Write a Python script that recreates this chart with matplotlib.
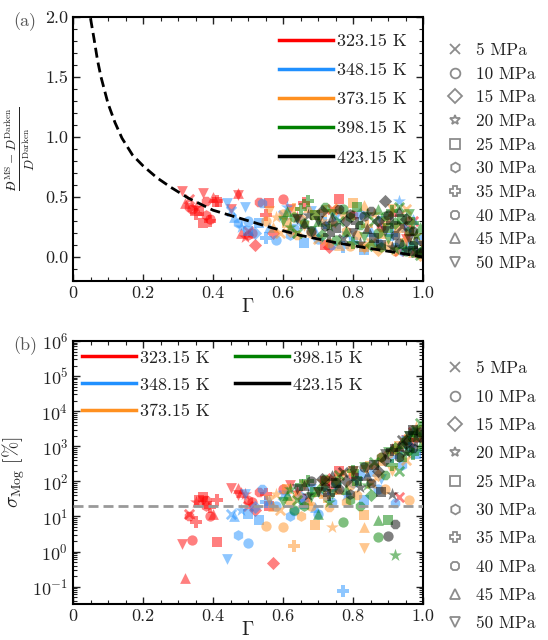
import numpy as np
import matplotlib
matplotlib.use("Agg")
import matplotlib.pyplot as plt
from matplotlib.lines import Line2D
from matplotlib.ticker import MultipleLocator, LogLocator, NullFormatter, FormatStrFormatter

plt.rcParams['font.family'] = ['cmr10', 'DejaVu Serif']
plt.rcParams['mathtext.fontset'] = 'cm'
plt.rcParams['axes.formatter.use_mathtext'] = True
plt.rcParams['axes.unicode_minus'] = False

# Temperatures (K) and their colours
temperatures = ["323.15 K", "348.15 K", "373.15 K", "398.15 K", "423.15 K"]
temp_colors = ["#FF0000", "#2090FF", "#FF9020", "#008000", "#000000"]

# Pressures (MPa) and their markers
pressures = [5, 10, 15, 20, 25, 30, 35, 40, 45, 50]
press_markers = ['x', 'o', 'D', '*', 's', 'h', 'P', '8', '^', 'v']

# Dashed trend curve for the relative difference
curve_gamma = [0.05, 0.06, 0.07, 0.08, 0.10, 0.12, 0.14, 0.17, 0.20, 0.24, 0.28,
               0.33, 0.40, 0.48, 0.56, 0.65, 0.75, 0.85, 0.93, 1.00]
curve_ratio = [1.99, 1.82, 1.64, 1.50, 1.28, 1.12, 0.99, 0.85, 0.76, 0.66, 0.58,
               0.49, 0.39, 0.32, 0.25, 0.18, 0.12, 0.07, 0.035, 0.0]

# 323.15 K
g_323 = [0.31, 0.32, 0.34, 0.33, 0.35, 0.36, 0.37, 0.38, 0.38, 0.39, 0.35, 0.40, 0.41, 0.41, 0.39,
         0.37, 0.33, 0.47, 0.48, 0.49, 0.50, 0.50, 0.51, 0.52, 0.53, 0.55, 0.57, 0.56, 0.60, 0.62,
         0.64, 0.66, 0.72, 0.73, 0.74, 0.76, 0.80, 0.88, 0.91, 0.93, 0.95, 0.97, 0.98, 0.96, 0.45, 0.47]
r_323 = [0.55, 0.45, 0.40, 0.48, 0.42, 0.38, 0.53, 0.35, 0.47, 0.30, 0.36, 0.50, 0.46, 0.47, 0.32,
         0.28, 0.42, 0.52, 0.20, 0.17, 0.18, 0.22, 0.20, 0.10, 0.46, 0.35, 0.20, 0.45, 0.48, 0.40,
         0.33, 0.45, 0.10, 0.08, 0.40, 0.48, 0.35, 0.25, 0.38, 0.05, 0.15, 0.30, 0.04, 0.22, 0.40, 0.53]
s_323 = [1.6, 0.18, 2.1, 12, 25, 30, 28, 20, 30, 18, 7, 12, 1.9, 30, 10,
         35, 10, 40, 50, 45, 30, 20, 25, 15, 50, 45, 0.46, 20, 60, 80,
         50, 30, 100, 120, 60, 200, 150, 500, 900, 37, 1500, 2500, 1800, 1200, 64, 65]
p_323 = [50, 45, 10, 5, 20, 25, 50, 30, 40, 35, 35, 45, 25, 35, 10,
         25, 40, 50, 45, 20, 30, 5, 10, 15, 40, 35, 15, 25, 10, 50,
         20, 35, 25, 15, 5, 25, 30, 40, 45, 5, 50, 5, 10, 25, 50, 45]

# 348.15 K
g_348 = [0.44, 0.45, 0.46, 0.47, 0.48, 0.49, 0.50, 0.50, 0.52, 0.53, 0.54, 0.55, 0.56, 0.58, 0.60,
         0.61, 0.62, 0.63, 0.65, 0.66, 0.68, 0.69, 0.70, 0.72, 0.74, 0.75, 0.77, 0.78, 0.80, 0.82,
         0.83, 0.85, 0.87, 0.88, 0.92, 0.91, 0.93, 0.94, 0.95, 0.96, 0.97, 0.98, 0.99]
r_348 = [0.45, 0.38, 0.33, 0.28, 0.25, 0.42, 0.30, 0.22, 0.20, 0.28, 0.45, 0.16, 0.25, 0.14, 0.35,
         0.42, 0.18, 0.24, 0.30, 0.12, 0.38, 0.22, 0.15, 0.28, 0.10, 0.33, 0.08, 0.20, 0.14, 0.36,
         0.06, 0.22, 0.12, 0.30, 0.08, 0.18, 0.47, 0.05, 0.25, 0.10, 0.32, 0.03, 0.15]
s_348 = [0.6, 12, 10, 2.9, 15, 45, 1.7, 12, 18, 8, 60, 25, 30, 20, 40,
         50, 10, 14, 35, 22, 60, 18, 12, 45, 25, 70, 0.075, 40, 90, 150,
         30, 200, 60, 120, 24, 500, 800, 300, 1500, 1000, 2500, 600, 3000]
p_348 = [50, 5, 45, 30, 20, 50, 10, 25, 15, 25, 40, 35, 45, 10, 5,
         20, 30, 40, 15, 25, 50, 45, 10, 35, 40, 5, 35, 20, 30, 15,
         25, 45, 10, 50, 40, 35, 20, 30, 5, 15, 45, 25, 10]

# 373.15 K
g_373 = [0.55, 0.56, 0.57, 0.58, 0.59, 0.60, 0.61, 0.62, 0.63, 0.64, 0.65, 0.66, 0.67, 0.68, 0.69,
         0.70, 0.71, 0.72, 0.73, 0.74, 0.75, 0.76, 0.77, 0.78, 0.79, 0.80, 0.81, 0.83, 0.83, 0.83,
         0.84, 0.85, 0.86, 0.87, 0.88, 0.89, 0.90, 0.91, 0.92, 0.93, 0.95, 0.95, 0.96, 0.97, 0.98,
         0.99, 1.00]
r_373 = [0.30, 0.38, 0.25, 0.33, 0.20, 0.36, 0.28, 0.22, 0.40, 0.18, 0.32, 0.26, 0.42, 0.20, 0.35,
         0.15, 0.30, 0.38, 0.12, 0.28, 0.40, 0.10, 0.33, 0.22, 0.09, 0.45, 0.18, 0.08, 0.43, 0.07,
         0.26, 0.12, 0.36, 0.06, 0.20, 0.30, 0.10, 0.40, 0.05, 0.24, 0.40, 0.14, 0.30, 0.04, 0.18,
         0.02, 0.10]
s_373 = [5.5, 30, 20, 45, 15, 5, 60, 25, 1.4, 40, 10, 80, 30, 20, 5.8,
         50, 100, 35, 18, 4.9, 120, 60, 150, 25, 80, 200, 40, 11, 4.9, 1.3,
         250, 90, 300, 150, 400, 60, 600, 200, 800, 1000, 400, 1500, 30, 2000, 3500,
         2800, 1200]
p_373 = [10, 50, 45, 20, 5, 10, 25, 15, 35, 40, 30, 50, 45, 10, 25,
         5, 20, 35, 40, 20, 15, 45, 50, 30, 10, 25, 40, 25, 45, 50,
         35, 5, 20, 15, 45, 10, 30, 50, 40, 25, 5, 35, 10, 45, 20,
         15, 50]

# 398.15 K
g_398 = [0.60, 0.61, 0.62, 0.63, 0.64, 0.65, 0.66, 0.67, 0.68, 0.69, 0.70, 0.71, 0.72, 0.73, 0.74,
         0.75, 0.76, 0.77, 0.78, 0.79, 0.80, 0.81, 0.82, 0.83, 0.84, 0.85, 0.86, 0.87, 0.87, 0.88,
         0.89, 0.90, 0.90, 0.91, 0.92, 0.92, 0.93, 0.94, 0.94, 0.95, 0.96, 0.96, 0.97, 0.97, 0.98,
         0.98, 0.99, 0.99, 1.00]
r_398 = [0.30, 0.38, 0.25, 0.33, 0.20, 0.40, 0.28, 0.47, 0.22, 0.35, 0.30, 0.18, 0.42, 0.26, 0.36,
         0.14, 0.30, 0.40, 0.22, 0.33, 0.12, 0.42, 0.27, 0.17, 0.36, 0.10, 0.30, 0.20, 0.40, 0.08,
         0.34, 0.24, 0.15, 0.38, 0.07, 0.28, 0.42, 0.12, 0.32, 0.05, 0.22, 0.36, 0.10, 0.28, 0.04,
         0.18, 0.02, 0.25, 0.06]
s_398 = [25, 40, 60, 15, 30, 80, 20, 100, 35, 50, 12, 70, 120, 25, 45,
         90, 150, 7, 60, 30, 200, 100, 20, 250, 80, 40, 350, 2.6, 8, 500,
         150, 8, 700, 300, 0.8, 900, 200, 1200, 500, 1500, 800, 2000, 2500, 600, 3000,
         1800, 4500, 1000, 2200]
p_398 = [50, 45, 20, 10, 5, 35, 30, 35, 50, 25, 45, 15, 40, 20, 50,
         10, 5, 10, 45, 30, 35, 25, 40, 50, 20, 15, 5, 10, 45, 30,
         40, 25, 50, 35, 20, 15, 5, 45, 25, 10, 40, 50, 30, 35, 5,
         20, 5, 45, 15]

# 423.15 K
g_423 = [0.64, 0.66, 0.67, 0.68, 0.70, 0.71, 0.72, 0.73, 0.74, 0.75, 0.76, 0.77, 0.78, 0.79, 0.80,
         0.81, 0.82, 0.83, 0.84, 0.85, 0.86, 0.87, 0.88, 0.89, 0.89, 0.90, 0.91, 0.91, 0.92, 0.93,
         0.93, 0.94, 0.95, 0.95, 0.96, 0.97, 0.97, 0.98, 0.99, 1.00]
r_423 = [0.32, 0.28, 0.35, 0.22, 0.30, 0.38, 0.26, 0.18, 0.33, 0.24, 0.40, 0.15, 0.30, 0.36, 0.20,
         0.28, 0.12, 0.34, 0.24, 0.38, 0.16, 0.30, 0.10, 0.47, 0.22, 0.35, 0.08, 0.28, 0.18, 0.38,
         0.12, 0.26, 0.06, 0.32, 0.15, 0.22, 0.05, 0.12, 0.03, 0.08]
s_423 = [60, 80, 40, 100, 50, 120, 70, 40, 150, 90, 60, 180, 100, 45, 200,
         120, 70, 250, 150, 90, 300, 200, 50, 400, 600, 2.7, 43, 800, 6, 1000,
         500, 1500, 700, 1200, 2000, 900, 3000, 1500, 2500, 1800]
p_423 = [50, 45, 20, 10, 50, 15, 30, 35, 45, 25, 40, 5, 15, 30, 50,
         35, 20, 10, 45, 40, 25, 15, 25, 15, 50, 10, 20, 35, 40, 45,
         30, 5, 20, 15, 50, 40, 25, 35, 10, 45]

gammas = [g_323, g_348, g_373, g_398, g_423]
ratios = [r_323, r_348, r_373, r_398, r_423]
sigmas = [s_323, s_348, s_373, s_398, s_423]
press = [p_323, p_348, p_373, p_398, p_423]

marker_size = {'x': 45, 'o': 55, 'D': 45, '*': 95, 's': 55, 'h': 60, 'P': 65, '8': 55, '^': 60, 'v': 60}
text_color = '#222222'


def scatter_points(ax, yvals):
    for g, y, p, c in zip(gammas, yvals, press, temp_colors):
        g = np.array(g)
        y = np.array(y)
        p = np.array(p)
        for pv, m in zip(pressures, press_markers):
            sel = p == pv
            if not sel.any():
                continue
            ax.scatter(g[sel], y[sel], marker=m, s=marker_size[m], color=c, alpha=0.5,
                       linewidths=2 if m == 'x' else 0, zorder=2)


def style_axes(ax):
    ax.set_xlim(0, 1.0)
    ax.xaxis.set_minor_locator(MultipleLocator(0.05))
    ax.set_xticks([0, 0.2, 0.4, 0.6, 0.8, 1.0])
    ax.set_xticklabels(['0', '0.2', '0.4', '0.6', '0.8', '1.0'])
    ax.tick_params(which='both', direction='in', top=True, right=True,
                   labelsize=13, colors=text_color)
    ax.tick_params(which='major', length=5, width=1.0)
    ax.tick_params(which='minor', length=2.7, width=0.8)
    for sp in ax.spines.values():
        sp.set_linewidth(1.5)
    ax.set_xlabel(r'$\Gamma$', fontsize=14, color=text_color, labelpad=-2)


def pressure_legend(ax, y_anchor, spacing):
    # pressure key sits to the right of the axes
    handles = [Line2D([], [], ls='none', marker=m, ms=7, mfc='white', mec='#8c8c8c',
                      mew=1.3, color='#8c8c8c') for m in press_markers]
    labels = [f'{p} MPa' for p in pressures]
    leg = ax.legend(handles, labels, loc='center left', bbox_to_anchor=(1.038, y_anchor),
                    frameon=False, fontsize=12.5, handlelength=1.4, handletextpad=0.5,
                    labelspacing=spacing, borderaxespad=0)
    for t in leg.get_texts():
        t.set_color(text_color)
    return leg


def temp_handles():
    return [Line2D([], [], color=c, lw=2.5) for c in temp_colors]


fig = plt.figure(figsize=(5.48, 6.4), dpi=100)
ax1 = fig.add_axes([73 / 548, 1 - 281 / 640, 350 / 548, 264 / 640])
ax2 = fig.add_axes([73 / 548, 1 - 604 / 640, 350 / 548, 263 / 640])

# (a) relative difference between Maxwell-Stefan and Darken diffusivities
scatter_points(ax1, ratios)
ax1.plot(curve_gamma, curve_ratio, color='black', lw=2, ls=(0, (3.6, 1.8)), zorder=3)
ax1.set_ylim(-0.2, 2.0)
ax1.yaxis.set_major_locator(MultipleLocator(0.5))
ax1.yaxis.set_minor_locator(MultipleLocator(0.1))
ax1.yaxis.set_major_formatter(FormatStrFormatter('%.1f'))
style_axes(ax1)
ax1.set_ylabel(r'$\frac{Đ^{\mathrm{MS}}-D^{\mathrm{Darken}}}{D^{\mathrm{Darken}}}$',
               fontsize=13.5, color=text_color, labelpad=6)

leg_p1 = pressure_legend(ax1, 0.47, 0.48)
ax1.add_artist(leg_p1)
leg_t1 = ax1.legend(temp_handles(), temperatures, loc='upper right', frameon=False,
                    fontsize=13, handlelength=3.0, handletextpad=0.2, labelspacing=0.75,
                    borderaxespad=0.5)
for t in leg_t1.get_texts():
    t.set_color(text_color)

# (b) deviation of the Moggridge prediction
scatter_points(ax2, sigmas)
ax2.axhline(20, color='#999999', lw=2, ls=(0, (3.6, 1.8)), zorder=3)
ax2.set_yscale('log')
ax2.set_ylim(0.032, 1e6)
ax2.yaxis.set_major_locator(LogLocator(base=10, numticks=12))
ax2.yaxis.set_minor_locator(LogLocator(base=10, subs=np.arange(2, 10), numticks=12))
ax2.yaxis.set_minor_formatter(NullFormatter())
style_axes(ax2)
ax2.set_ylabel(r'$\sigma_{\mathrm{Mog}}$ [%]', fontsize=14, color=text_color, labelpad=4)

leg_p2 = pressure_legend(ax2, 0.41, 0.75)
ax2.add_artist(leg_p2)
leg_t2 = ax2.legend(temp_handles(), temperatures, loc='upper left', ncol=2, frameon=False,
                    fontsize=13, handlelength=3.0, handletextpad=0.2, labelspacing=0.62,
                    columnspacing=1.4, borderaxespad=0.1)
for t in leg_t2.get_texts():
    t.set_color(text_color)

fig.text(13 / 548, 1 - 22 / 640, '(a)', fontsize=13, color='#555555', va='center')
fig.text(13 / 548, 1 - 346 / 640, '(b)', fontsize=13, color='#555555', va='center')

fig.savefig('out.png', dpi=100)
